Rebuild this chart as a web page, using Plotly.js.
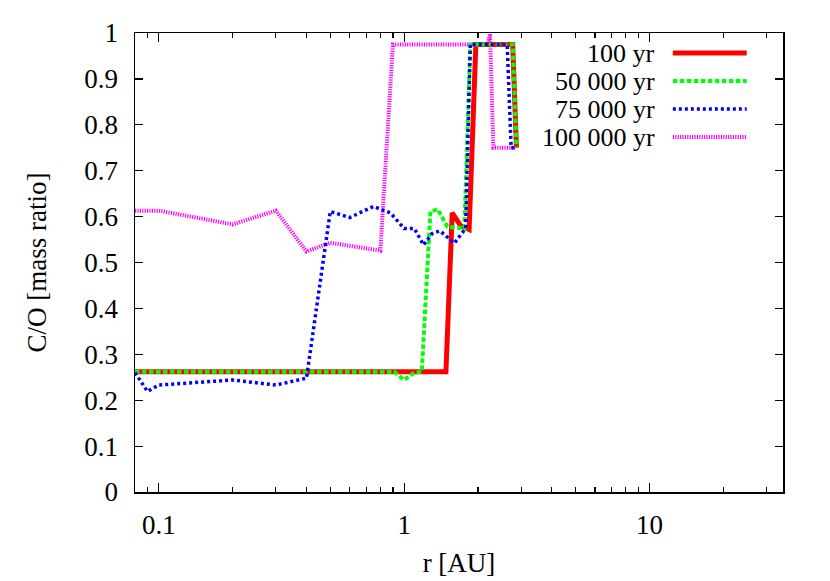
<!DOCTYPE html>
<html><head><meta charset="utf-8">
<script src="https://cdn.plot.ly/plotly-3.0.1.min.js"></script>
<style>html,body{margin:0;padding:0;background:#fff;}#chart{width:830px;height:581px;}</style>
</head><body><div id="chart"></div>
<script>
// Series names (legend order)
const seriesNames = ["100 yr", "50 000 yr", "75 000 yr", "100 000 yr"];

// 100 yr
const r100 = [0.08, 1.48, 1.57, 1.70, 1.84, 1.96, 2.77, 2.87];
const co100 = [0.262, 0.262, 0.608, 0.580, 0.572, 0.975, 0.975, 0.750];

// 50 000 yr
const r50k = [0.08, 0.91, 1.0, 1.1, 1.18, 1.28, 1.37, 1.50, 1.76, 1.86, 2.77, 2.87];
const co50k = [0.262, 0.262, 0.244, 0.260, 0.262, 0.611, 0.616, 0.578, 0.574, 0.975, 0.975, 0.750];

// 75 000 yr
const r75k = [0.08, 0.09, 0.1, 0.2, 0.3, 0.4, 0.5, 0.6, 0.75, 0.88, 1.0, 1.1, 1.2, 1.3, 1.4, 1.6, 1.78, 1.86, 2.63, 2.73, 2.87];
const co75k = [0.260, 0.219, 0.233, 0.244, 0.233, 0.248, 0.611, 0.598, 0.622, 0.608, 0.574, 0.574, 0.538, 0.563, 0.569, 0.542, 0.574, 0.975, 0.975, 0.750, 0.750];

// 100 000 yr
const r100k = [0.08, 0.1, 0.2, 0.3, 0.4, 0.5, 0.8, 0.9, 2.18, 2.24, 2.31, 2.87];
const co100k = [0.613, 0.613, 0.583, 0.613, 0.524, 0.543, 0.526, 0.975, 0.975, 0.998, 0.750, 0.750];

const xRange = [0.08, 35];
const yRange = [0, 1];

const styles = [
  {color: "#ff0000", width: 5, dash: "solid"},
  {color: "#00ff00", width: 4, dash: "4.5px,2.5px"},
  {color: "#0000ff", width: 3.5, dash: "3px,3px"},
  {color: "#ff00ff", width: 4, dash: "1.2px,1.2px"}
];
const xs = [r100, r50k, r75k, r100k];
const ys = [co100, co50k, co75k, co100k];

const drawOrder = [3, 0, 1, 2];
const traces = drawOrder.map(i => ({
  x: xs[i], y: ys[i], type: "scatter", mode: "lines", name: seriesNames[i],
  line: {color: styles[i].color, width: styles[i].width, dash: styles[i].dash},
  showlegend: false, hoverinfo: "skip"
}));

const font = {family: "Liberation Serif", size: 27, color: "#000"};
const legFont = {family: "Liberation Serif", size: 26, color: "#000"};

// custom legend: text right-aligned, sample line to the right
const legRowsY = [0.9564, 0.8954, 0.8344, 0.7734];
const annotations = [];
const shapes = [];
seriesNames.forEach((n, i) => {
  annotations.push({xref: "paper", yref: "paper", x: 0.806, y: legRowsY[i], text: n,
    showarrow: false, xanchor: "right", yanchor: "middle", font: legFont});
  shapes.push({type: "line", xref: "paper", yref: "paper", x0: 0.830, x1: 0.944,
    y0: legRowsY[i], y1: legRowsY[i],
    line: {color: styles[i].color, width: styles[i].width, dash: styles[i].dash}});
});

const layout = {
  width: 830, height: 581,
  margin: {l: 135, r: 47, t: 33, b: 89},
  paper_bgcolor: "#fff", plot_bgcolor: "#fff",
  font: font,
  showlegend: false,
  xaxis: {
    type: "log", range: [Math.log10(xRange[0]), Math.log10(xRange[1])],
    tickmode: "linear", tick0: 0, dtick: 1,
    ticks: "inside", ticklen: 9, tickwidth: 1.2, tickcolor: "#000",
    minor: {dtick: "D1", ticks: "inside", ticklen: 5, tickwidth: 1.2, tickcolor: "#000", showgrid: false},
    showline: true, linecolor: "#000", linewidth: 1.5, mirror: "ticks",
    showgrid: false, zeroline: false,
    ticklabelstandoff: 8,
    title: {text: "r [AU]", font: font, standoff: 14},
    automargin: false
  },
  yaxis: {
    range: yRange, tickmode: "linear", tick0: 0, dtick: 0.1,
    ticks: "inside", ticklen: 8, tickwidth: 1.2, tickcolor: "#000",
    showline: true, linecolor: "#000", linewidth: 1.5, mirror: "ticks",
    showgrid: false, zeroline: false,
    ticklabelstandoff: 10,
    title: {text: "C/O [mass ratio]", font: font, standoff: 30},
    automargin: false
  },
  annotations: annotations,
  shapes: shapes
};

Plotly.newPlot("chart", traces, layout, {staticPlot: true, displayModeBar: false});
</script>
</body></html>
